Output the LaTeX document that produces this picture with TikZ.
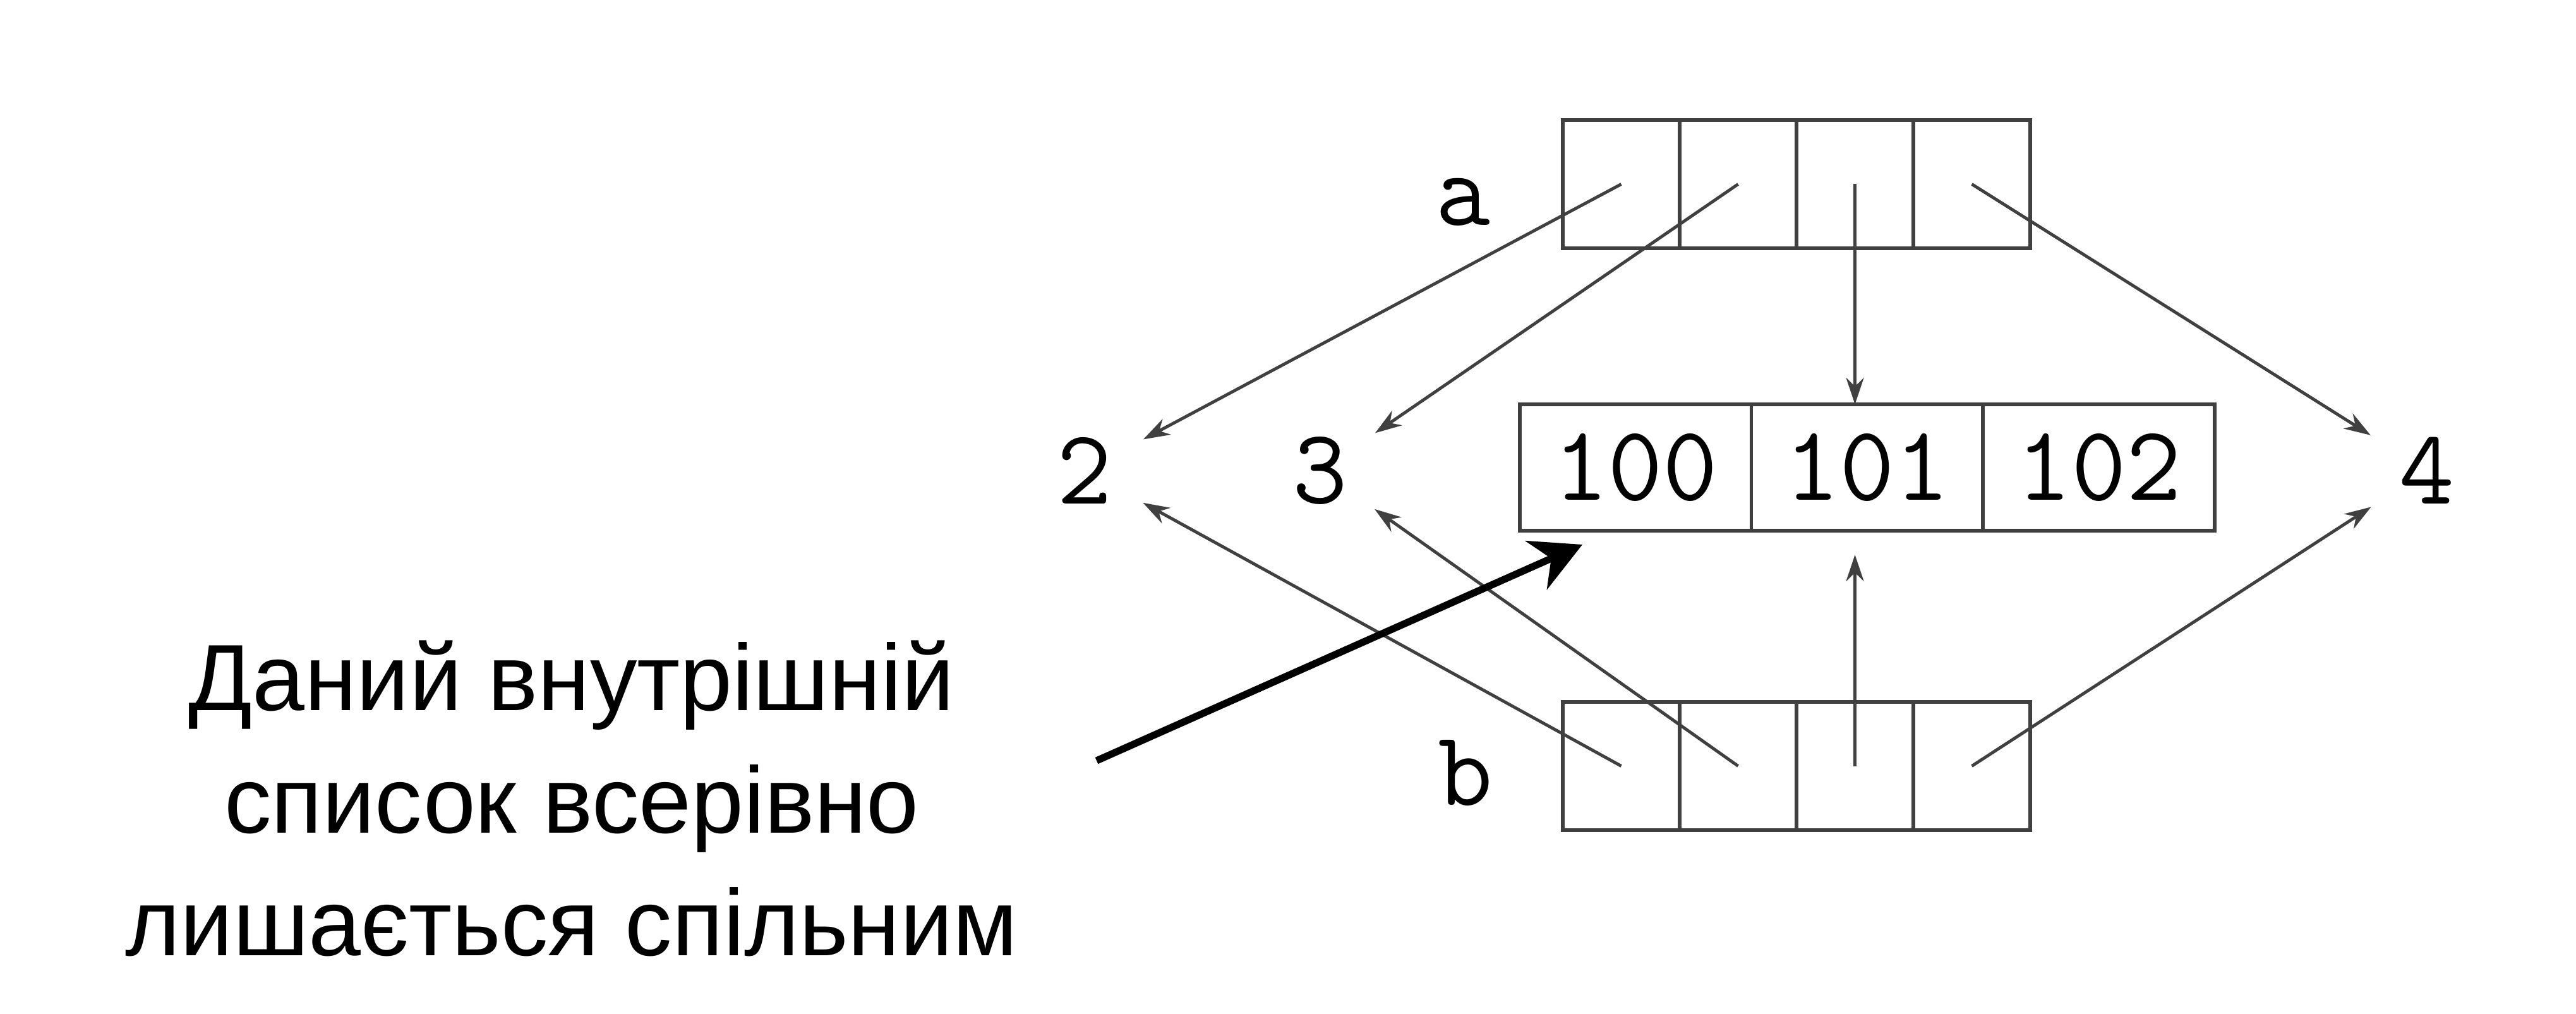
\documentclass[tikz,border=0pt]{standalone}
\usepackage{fontspec}
\setmainfont{Liberation Sans}
\usetikzlibrary{positioning,arrows.meta,calc}
\begin{document}
\begin{tikzpicture}[>={Stealth[length=0.21cm,width=0.14cm]},
	cell/.style={draw=black!75, line width=0.8pt, minimum width=0.925cm, minimum height=1.015cm, inner sep=0pt, outer sep=0pt},
	mcell/.style={draw=black!75, line width=0.8pt, minimum width=1.833cm, minimum height=1cm, inner sep=0pt, outer sep=0pt, font=\fontsize{24}{24}\ttfamily},
	val/.style={circle, minimum size=1.04cm, inner sep=0pt, font=\fontsize{24}{24}\ttfamily},
	ptr/.style={->, line width=0.7pt, draw=black!75}]
	\useasboundingbox (0,0) rectangle (20.39,8.02);
	% lists a and b
	\foreach \i in {1,...,4}{
		\node[cell] (a\i) at (12.37+0.925*\i-0.4625,6.5625) {};
		\node[cell] (b\i) at (12.37+0.925*\i-0.4625,1.9575) {};
	}
	\node[font=\fontsize{24}{24}\ttfamily] (la) at (11.58,6.42) {a};
	\node[font=\fontsize{24}{24}\ttfamily] (lb) at (11.6,1.905) {b};
	% inner list
	\foreach \v [count=\i] in {100,101,102}{
		\node[mcell] (m\i) at (12.03+1.833*\i-0.9165,4.32) {\v};
	}
	\node[val] (v2) at (8.585,4.295) {2};
	\node[val] (v3) at (10.45,4.295) {3};
	\node[val] (v4) at (19.21,4.295) {4};
	% pointers
	\draw[ptr] (a1.center) -- (v2);
	\draw[ptr] (a2.center) -- (v3);
	\draw[ptr] (a3.center) -- (a3.center |- m2.north);
	\draw[ptr] (a4.center) -- (v4);
	\draw[ptr] (b1.center) -- (v2);
	\draw[ptr] (b2.center) -- (v3);
	\draw[ptr, shorten >=0.19cm] (b3.center) -- (b3.center |- m2.south);
	\draw[ptr] (b4.center) -- (v4);
	% note
	\node[align=center, font=\fontsize{21.2}{27.64}\selectfont] (note) at (4.525,1.70) {Даний внутрішній\\список всерівно\\лишається спільним};
	\coordinate (tail) at (8.68,2.0);
	\coordinate (tip) at (12.525,3.71);
	\draw[-{Stealth[length=0.4cm,width=0.42cm]}, line width=1.6pt] (tail) -- (tip);
\end{tikzpicture}
\end{document}
